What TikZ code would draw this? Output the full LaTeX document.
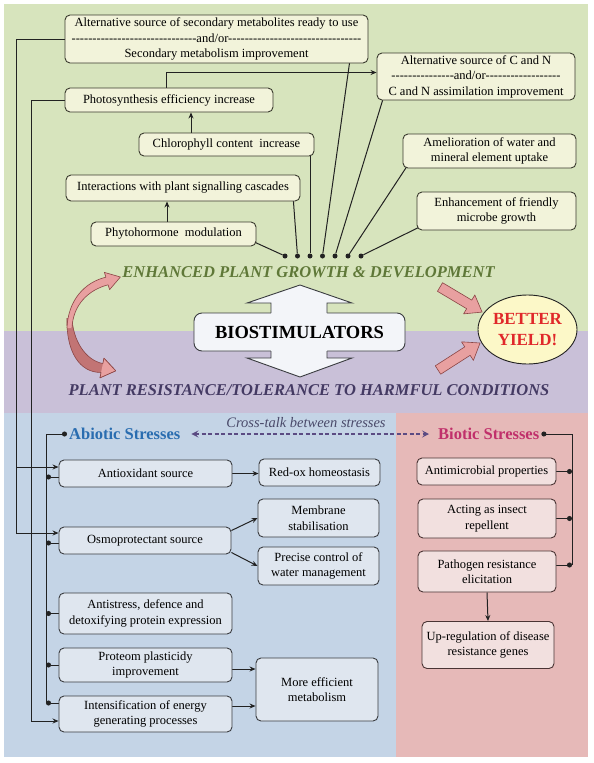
\documentclass[tikz,border=0pt]{standalone}
\usepackage{fontspec}
\setmainfont{Liberation Serif}
\setsansfont{Liberation Sans}
\usetikzlibrary{arrows.meta,calc,shapes.geometric}
\pgfdeclarelayer{back}
\pgfdeclarelayer{lines}
\pgfsetlayers{back,lines,main}
\definecolor{greenbg}{HTML}{D7E4BD}
\definecolor{purplebg}{HTML}{C9C0D8}
\definecolor{bluebg}{HTML}{C4D4E6}
\definecolor{pinkbg}{HTML}{E6B9B8}
\definecolor{tfill}{HTML}{F2F3DA}
\definecolor{tline}{HTML}{3A3A2E}
\definecolor{afill}{HTML}{DFE6EF}
\definecolor{aline}{HTML}{3A3C40}
\definecolor{bfill}{HTML}{F2E0DF}
\definecolor{bline}{HTML}{4A3434}
\definecolor{lc}{HTML}{222222}
\definecolor{enhc}{HTML}{5F7838}
\definecolor{resc}{HTML}{443A63}
\definecolor{abc}{HTML}{2A6DB0}
\definecolor{bic}{HTML}{C0306B}
\definecolor{yieldc}{HTML}{E0282A}
\definecolor{yfill}{HTML}{FCF8C8}
\definecolor{crossc}{HTML}{4A4A6A}
\definecolor{crossa}{HTML}{5B4B83}
\definecolor{pinkfill}{HTML}{E8A0A0}
\definecolor{pinkline}{HTML}{8A4545}
\definecolor{pinkdark}{HTML}{C27474}
\definecolor{biostfill}{HTML}{F3F5F9}
\newcommand\hy[1]{\foreach\k in {1,...,#1}{-\kern0pt}}
\begin{document}
\begin{tikzpicture}[x=1pt,y=-1pt,
  tbox/.style={draw=tline, fill=tfill, rounded corners=5pt, line width=0.9pt, align=center, inner sep=1pt, font=\fontsize{12.5}{15.5}\selectfont},
  abox/.style={tbox, draw=aline, fill=afill},
  bbox/.style={tbox, draw=bline, fill=bfill},
  conn/.style={line width=1pt, draw=lc},
  arr/.style={conn, -{Stealth[length=6pt,width=5pt]}},
  dotend/.style={conn, {Circle[length=5pt]}-},
  blob/.style={circle, fill=lc, inner sep=0pt, minimum size=5pt},
  pinkar/.style={fill=pinkfill, draw=pinkline, line width=0.6pt, line join=round},
]
\useasboundingbox (0,0) rectangle (594,763);
\begin{pgfonlayer}{back}
\fill[greenbg] (4,4) rectangle (588,331);
\fill[purplebg] (4,331) rectangle (588,413);
\fill[bluebg] (4,413) rectangle (396,757);
\fill[pinkbg] (396,413) rectangle (588,757);
\end{pgfonlayer}

% ---------- top boxes ----------
\node[tbox, minimum width=303pt, minimum height=48pt] (sec) at (216.5,39)
  {Alternative source of secondary metabolites ready to use\\ \hy{30}and/or\hy{32}\\ Secondary metabolism improvement};
\node[tbox, minimum width=208pt, minimum height=24pt] (photo) at (169,100) {Photosynthesis efficiency increase};
\node[tbox, minimum width=198pt, minimum height=47pt] (cn) at (476,76.5)
  {Alternative source of C and N\\ \hy{15}and/or\hy{18}\\ C and N assimilation improvement};
\node[tbox, minimum width=175pt, minimum height=23pt] (chl) at (226.5,144.5) {Chlorophyll content\ \ increase};
\node[tbox, minimum width=234pt, minimum height=26pt] (inter) at (183,188) {Interactions with plant signalling cascades};
\node[tbox, minimum width=165pt, minimum height=24pt] (phyto) at (173.5,234) {Phytohormone\ \ modulation};
\node[tbox, minimum width=173pt, minimum height=34pt] (amel) at (489.5,151) {Amelioration of water and\\ mineral element uptake};
\node[tbox, minimum width=159pt, minimum height=38pt] (enh) at (496.5,211) {Enhancement of friendly\\ microbe growth};

\node[blob] (d1) at (285,256) {};
\node[blob] (d2) at (297.5,256) {};
\node[blob] (d3) at (310,256) {};
\node[blob] (d4) at (322.5,256) {};
\node[blob] (d5) at (335,256) {};
\node[blob] (d6) at (348,256) {};
\node[blob] (d7) at (361,256) {};

% ---------- titles ----------
\node[font=\bfseries\itshape\fontsize{16.5}{18}\selectfont, text=enhc] (enht) at (308.5,272) {ENHANCED PLANT GROWTH \& DEVELOPMENT};
\node[font=\bfseries\itshape\fontsize{16.5}{18}\selectfont, text=resc] (rest) at (309,390) {PLANT RESISTANCE/TOLERANCE TO HARMFUL CONDITIONS};

% ---------- biostimulators ----------
\node[draw=aline, fill=biostfill, line width=0.9pt, rounded corners=8pt, minimum width=211pt, minimum height=38pt,
  font=\bfseries\fontsize{18.5}{20}\selectfont] (biost) at (299.5,332) {BIOSTIMULATORS};
\fill[biostfill] (300,285) -- (352,303) -- (327,303) -- (327,314.5) -- (271,314.5) -- (271,303) -- (247,303) -- cycle;
\draw[aline, line width=0.9pt, line join=miter] (271,313) -- (271,303) -- (247,303) -- (300,285) -- (352,303) -- (327,303) -- (327,313);
\fill[biostfill] (271,349.5) -- (327,349.5) -- (327,358) -- (352,358) -- (300,377) -- (247,358) -- (271,358) -- cycle;
\draw[aline, line width=0.9pt, line join=miter] (271,351) -- (271,358) -- (247,358) -- (300,377) -- (352,358) -- (327,358) -- (327,351);

% ---------- better yield ----------
\node[ellipse, draw=lc, fill=yfill, line width=0.9pt, minimum width=99pt, minimum height=69pt, inner sep=0pt, align=center,
  font=\bfseries\fontsize{17}{21}\selectfont, text=yieldc] (yield) at (527.5,329.5) {BETTER\\YIELD!};

% pink straight arrows
\begin{scope}[shift={(440,287)}, rotate=-30.8]
\draw[pinkar] (0,-5) -- (34,-5) -- (34,-11) -- (49,0) -- (34,11) -- (34,5) -- (0,5) -- cycle;
\end{scope}
\begin{scope}[shift={(438,370)}, rotate=32.7]
\draw[pinkar] (0,-5) -- (35,-5) -- (35,-11) -- (50,0) -- (35,11) -- (35,5) -- (0,5) -- cycle;
\end{scope}

% curved double arrow
\fill[pinkdark] (67,318) .. controls (66,352) and (80,373) .. (101.1,372.4) -- (100,377.8) -- (115.7,370.8) -- (104,358.2) -- (102.9,363.6) .. controls (85,360) and (73,340) .. (72,318) -- cycle;
\draw[pinkline, line width=0.6pt, line join=round] (67,318) .. controls (66,352) and (80,373) .. (101.1,372.4) -- (100,377.8) -- (115.7,370.8) -- (104,358.2) -- (102.9,363.6) .. controls (85,360) and (73,340) .. (72,318);
\fill[pinkfill] (100,377.8) -- (115.7,370.8) -- (104,358.2) -- (102.9,363.6) -- (101.1,372.4) -- cycle;
\draw[pinkline, line width=0.6pt, line join=round] (101.1,372.4) -- (100,377.8) -- (115.7,370.8) -- (104,358.2) -- (102.9,363.6);
\fill[pinkfill] (72,328) .. controls (73,305) and (88,290) .. (108.1,284.8) -- (109.6,289.6) -- (120.4,277) -- (104.4,272.4) -- (105.9,277.2) .. controls (85,282) and (68,300) .. (67,328) -- cycle;
\draw[pinkline, line width=0.6pt, line join=round] (72,328) .. controls (73,305) and (88,290) .. (108.1,284.8) -- (109.6,289.6) -- (120.4,277) -- (104.4,272.4) -- (105.9,277.2) .. controls (85,282) and (68,300) .. (67,328);

% ---------- stresses ----------
\node[font=\itshape\fontsize{14.5}{16}\selectfont, text=crossc] (ct) at (306,422.5) {Cross-talk between stresses};
\node[anchor=west, inner sep=2pt, font=\bfseries\fontsize{16.5}{18}\selectfont, text=abc] (abio) at (67,434) {Abiotic Stresses};
\node[anchor=west, inner sep=2pt, font=\bfseries\fontsize{16.5}{18}\selectfont, text=bic] (biot) at (436,434) {Biotic Stresses};
\draw[crossa, line width=1.3pt, dash pattern=on 4pt off 2.5pt,
  {Stealth[length=7pt,width=7pt,inset=3pt]}-{Stealth[length=7pt,width=7pt,inset=3pt]}, shorten <=9pt, shorten >=7pt] (abio.east) -- (biot.west);

\node[abox, minimum width=173pt, minimum height=27pt] (anti) at (145.5,473.5) {Antioxidant source};
\node[abox, minimum width=121pt, minimum height=27pt] (redox) at (319.5,472.5) {Red-ox homeostasis};
\node[abox, minimum width=121pt, minimum height=38pt] (mem) at (318.5,518) {Membrane\\ stabilisation};
\node[abox, minimum width=172pt, minimum height=27pt] (osmo) at (145,540.5) {Osmoprotectant source};
\node[abox, minimum width=121pt, minimum height=38pt] (prec) at (318.5,566) {Precise control of\\ water management};
\node[abox, minimum width=173pt, minimum height=41pt] (antis) at (145.5,613.5) {Antistress, defence and\\ detoxifying protein expression};
\node[abox, minimum width=173pt, minimum height=34pt] (prot) at (145.5,665) {Proteom plasticidy\\ improvement};
\node[abox, minimum width=173pt, minimum height=36pt] (inten) at (145.5,714) {Intensification of energy\\ generating processes};
\node[abox, minimum width=122pt, minimum height=63pt] (more) at (317,689.5) {More efficient\\ metabolism};

\node[bbox, minimum width=139pt, minimum height=27pt] (amic) at (486.5,471.5) {Antimicrobial properties};
\node[bbox, minimum width=138pt, minimum height=39pt] (insect) at (487,518.5) {Acting as insect\\ repellent};
\node[bbox, minimum width=138pt, minimum height=41pt] (path) at (487,571.5) {Pathogen resistance\\ elicitation};
\node[bbox, minimum width=132pt, minimum height=47pt] (upreg) at (488,645) {Up-regulation of disease\\ resistance genes};

% ---------- coordinates ----------
\coordinate (c1) at (16,0);
\coordinate (c2) at (31,0);
\coordinate (abus) at (46,703);
\coordinate (bbus) at (572,565);
\coordinate (antiA) at ([yshift=6.5pt]anti.west);
\coordinate (antiD) at ([yshift=-3.5pt]anti.west);
\coordinate (osmoA) at ([yshift=7.5pt]osmo.west);
\coordinate (osmoD) at ([yshift=-2.5pt]osmo.west);
\coordinate (intenA) at ([yshift=-7pt]inten.west);
\coordinate (intenD) at ([yshift=11pt]inten.west);
\coordinate (photoT) at ([xshift=-3pt]photo.north);
\coordinate (cnA) at ([yshift=4pt]cn.west);
\coordinate (chlT) at ([xshift=-35.5pt]chl.north);
\coordinate (phytoT) at ([xshift=-6.5pt]phyto.north);
\coordinate (p1) at ([yshift=-9pt]phyto.east);
\coordinate (p2) at ([xshift=-7pt]inter.south east);
\coordinate (p4) at ([xshift=-19pt]sec.south east);
\coordinate (p5) at ([xshift=6pt]cn.south west);
\coordinate (p6) at ([xshift=3pt]amel.south west);
\coordinate (p7) at ([yshift=2pt]enh.south west);

\begin{pgfonlayer}{lines}
% top
\draw[conn] ($(p1)!-3pt!(d1)$) -- (d1);
\draw[conn] ($(p2)!-3pt!(d2)$) -- (d2);
\draw[conn] (d3 |- chl.south) -- (d3);
\draw[conn] ($(p4)!-3pt!(d4)$) -- (d4);
\draw[conn] ($(p5)!-3pt!(d5)$) -- (d5);
\draw[conn] ($(p6)!-3pt!(d6)$) -- (d6);
\draw[conn] ($(p7)!-3pt!(d7)$) -- (d7);
\draw[arr] (phytoT) -- (phytoT |- inter.south);
\draw[arr] (chlT) -- (chlT |- photo.south);
\draw[arr] (photoT) |- (cnA);
% left long lines
\draw[arr] (sec.west) -- (sec.west -| c1) |- (antiA);
\draw[arr] (sec.west -| c1) |- (osmoA);
\draw[arr] (photo.west) -- (photo.west -| c2) |- (intenA);
% abiotic bus
\draw[dotend] (abio.west) -- (abio.west -| abus) -- (abus);
\draw[dotend] (abus |- antiD) -- (antiD);
\draw[dotend] (abus |- osmoD) -- (osmoD);
\draw[dotend] (abus |- antis.west) -- (antis.west);
\draw[dotend] (abus |- prot.west) -- (prot.west);
\draw[dotend] (abus) -- (intenD);
% abiotic arrows
\draw[arr] (anti.east) -- (anti.east -| redox.west);
\draw[arr] ([yshift=10pt]osmo.east) -- (mem.west);
\draw[arr] ([yshift=-12pt]osmo.east) -- (prec.west);
\draw[arr] ([yshift=-4pt]prot.east) -- ([yshift=-4pt]prot.east -| more.west);
\draw[arr] ([yshift=8pt]inten.east) -- ([yshift=8pt]inten.east -| more.west);
% biotic bus
\draw[dotend] (biot.east) -- (biot.east -| bbus) -- (bbus);
\draw[dotend] (bbus |- amic.east) -- (amic.east);
\draw[dotend] (bbus |- insect.east) -- (insect.east);
\draw[dotend] (bbus) -- (bbus -| path.east);
\draw[arr] (path.south) -- (upreg.north);
\end{pgfonlayer}
\end{tikzpicture}
\end{document}
